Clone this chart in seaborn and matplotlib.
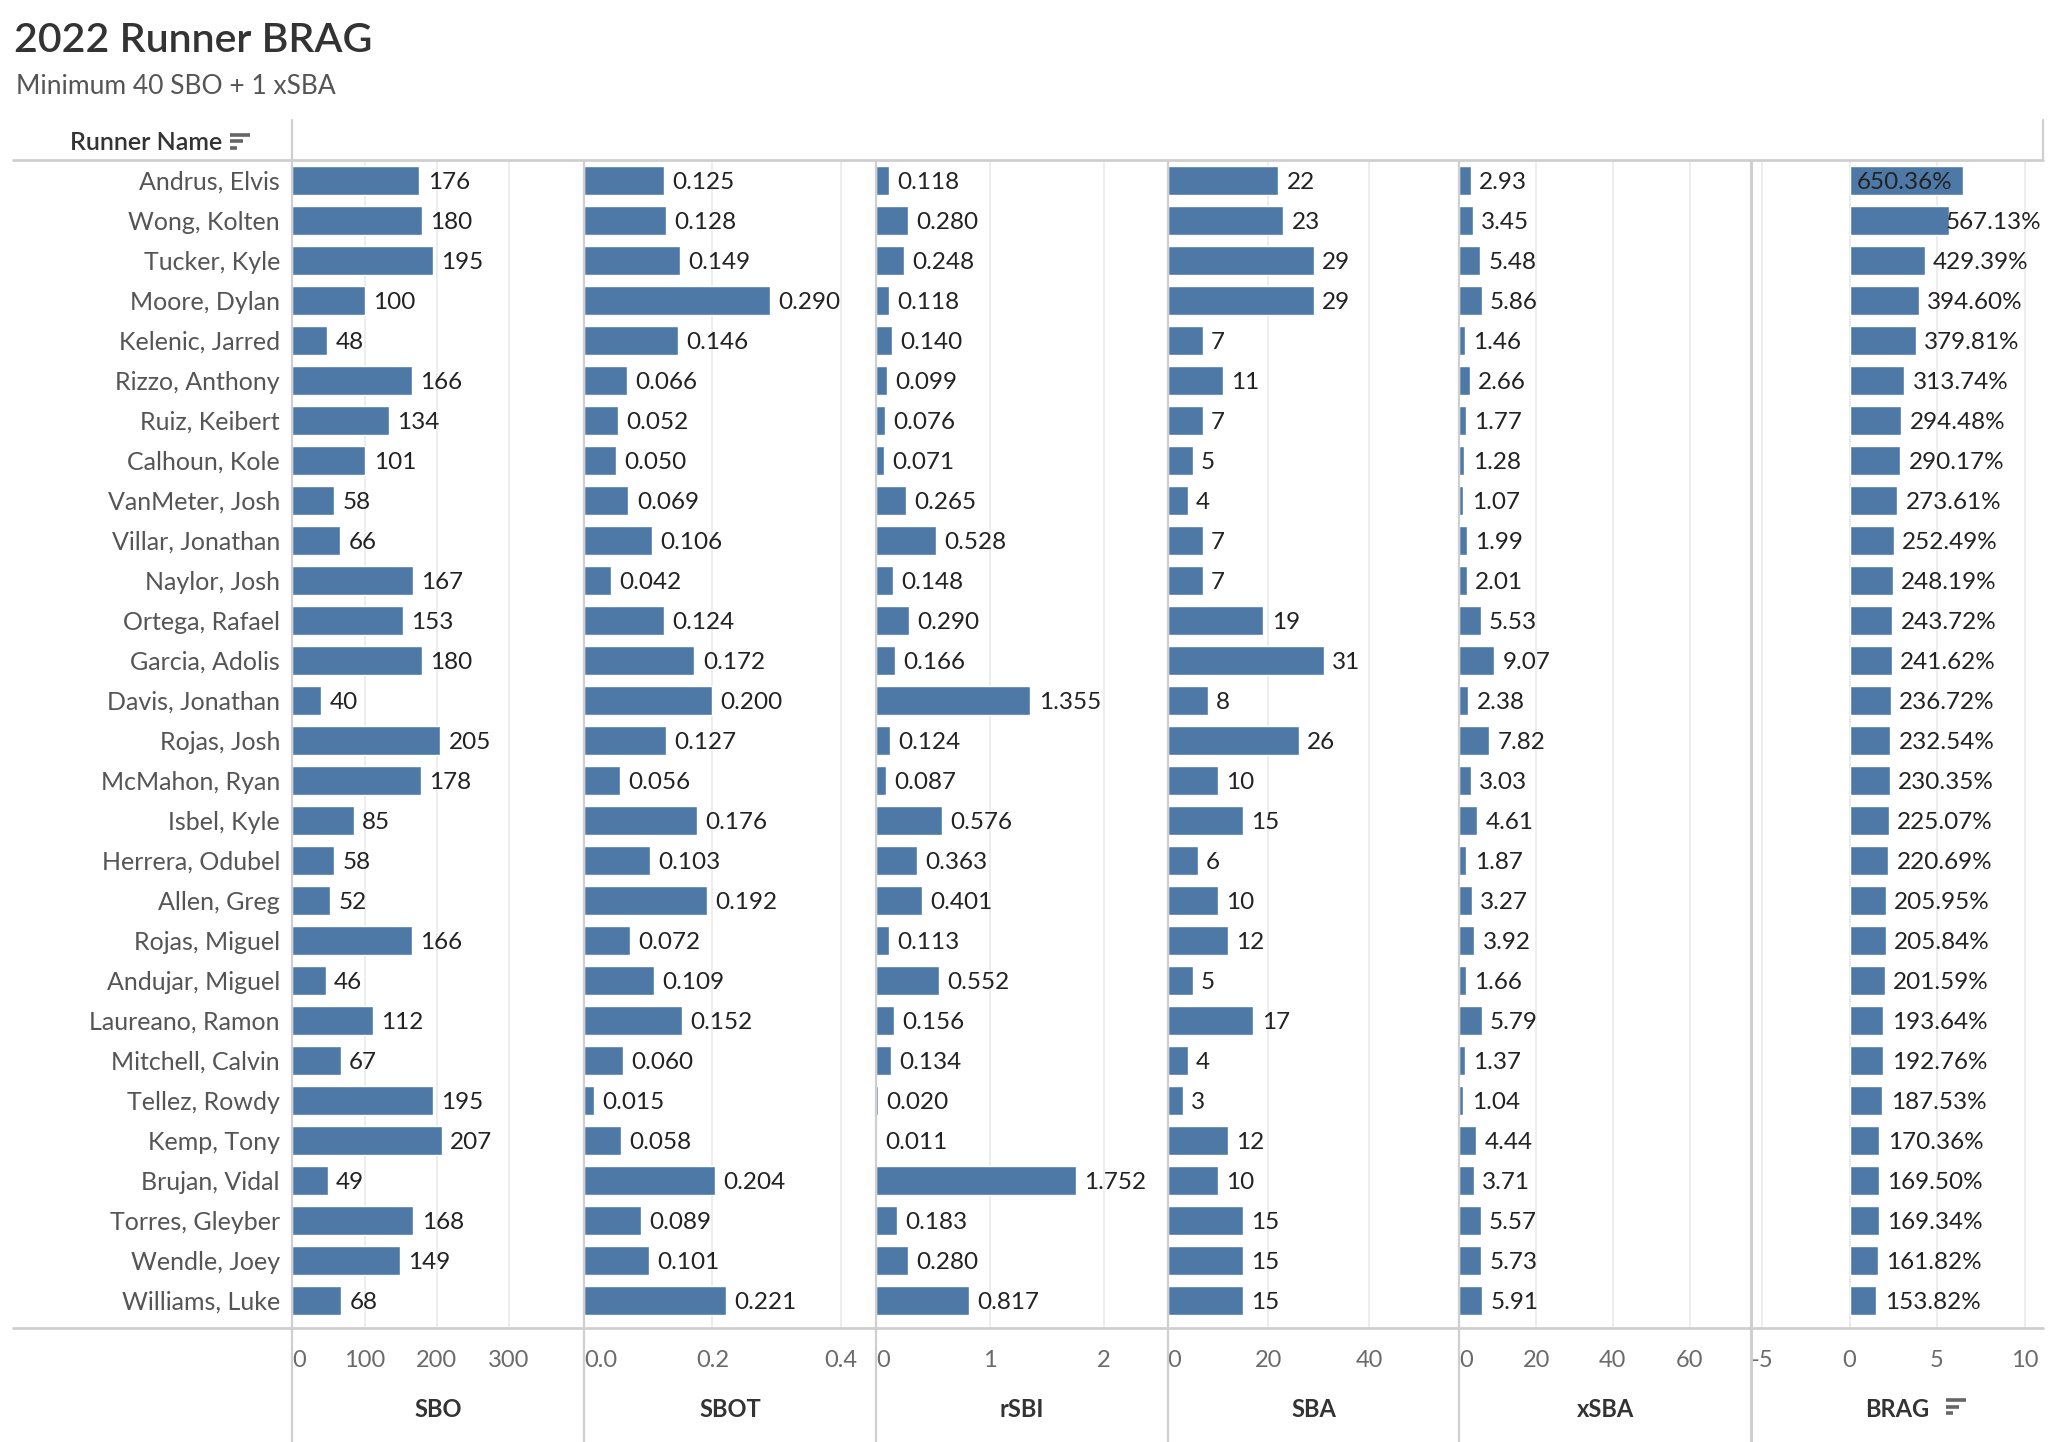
import numpy as np
import pandas as pd
import seaborn as sns
import matplotlib.pyplot as plt
from matplotlib.lines import Line2D

# Data
names = ["Andrus, Elvis", "Wong, Kolten", "Tucker, Kyle", "Moore, Dylan", "Kelenic, Jarred",
         "Rizzo, Anthony", "Ruiz, Keibert", "Calhoun, Kole", "VanMeter, Josh", "Villar, Jonathan",
         "Naylor, Josh", "Ortega, Rafael", "Garcia, Adolis", "Davis, Jonathan", "Rojas, Josh",
         "McMahon, Ryan", "Isbel, Kyle", "Herrera, Odubel", "Allen, Greg", "Rojas, Miguel",
         "Andujar, Miguel", "Laureano, Ramon", "Mitchell, Calvin", "Tellez, Rowdy", "Kemp, Tony",
         "Brujan, Vidal", "Torres, Gleyber", "Wendle, Joey", "Williams, Luke"]
sbo = [176, 180, 195, 100, 48, 166, 134, 101, 58, 66, 167, 153, 180, 40, 205,
       178, 85, 58, 52, 166, 46, 112, 67, 195, 207, 49, 168, 149, 68]
sbot = [0.125, 0.128, 0.149, 0.290, 0.146, 0.066, 0.052, 0.050, 0.069, 0.106, 0.042, 0.124,
        0.172, 0.200, 0.127, 0.056, 0.176, 0.103, 0.192, 0.072, 0.109, 0.152, 0.060, 0.015,
        0.058, 0.204, 0.089, 0.101, 0.221]
rsbi = [0.118, 0.280, 0.248, 0.118, 0.140, 0.099, 0.076, 0.071, 0.265, 0.528, 0.148, 0.290,
        0.166, 1.355, 0.124, 0.087, 0.576, 0.363, 0.401, 0.113, 0.552, 0.156, 0.134, 0.020,
        0.011, 1.752, 0.183, 0.280, 0.817]
sba = [22, 23, 29, 29, 7, 11, 7, 5, 4, 7, 7, 19, 31, 8, 26, 10, 15, 6, 10, 12, 5, 17, 4, 3,
       12, 10, 15, 15, 15]
xsba = [2.93, 3.45, 5.48, 5.86, 1.46, 2.66, 1.77, 1.28, 1.07, 1.99, 2.01, 5.53, 9.07, 2.38,
        7.82, 3.03, 4.61, 1.87, 3.27, 3.92, 1.66, 5.79, 1.37, 1.04, 4.44, 3.71, 5.57, 5.73, 5.91]
brag_pct = [650.36, 567.13, 429.39, 394.60, 379.81, 313.74, 294.48, 290.17, 273.61, 252.49,
            248.19, 243.72, 241.62, 236.72, 232.54, 230.35, 225.07, 220.69, 205.95, 205.84,
            201.59, 193.64, 192.76, 187.53, 170.36, 169.50, 169.34, 161.82, 153.82]

df = pd.DataFrame({"Runner Name": names, "SBO": sbo, "SBOT": sbot, "rSBI": rsbi,
                   "SBA": sba, "xSBA": xsba, "BRAG": np.array(brag_pct) / 100})

# column setup: measure, xlim, ticks, tick labels, value format
cols = [
    ("SBO", (0, 405), [0, 100, 200, 300], ["0", "100", "200", "300"], lambda v: f"{v:.0f}"),
    ("SBOT", (0, 0.455), [0, 0.2, 0.4], ["0.0", "0.2", "0.4"], lambda v: f"{v:.3f}"),
    ("rSBI", (0, 2.56), [0, 1, 2], ["0", "1", "2"], lambda v: f"{v:.3f}"),
    ("SBA", (0, 57.9), [0, 20, 40], ["0", "20", "40"], lambda v: f"{v:.0f}"),
    ("xSBA", (0, 76), [0, 20, 40, 60], ["0", "20", "40", "60"], lambda v: f"{v:.2f}"),
    ("BRAG", (-5.63, 11.04), [-5, 0, 5, 10], ["-5", "0", "5", "10"], lambda v: f"{v * 100:.2f}%"),
]

sns.set_theme(style="white")
plt.rcParams['font.family'] = ['Lato', 'DejaVu Sans']

BAR = "#4e79a7"
LINE = "#cfcfcf"
W, H = 1568.0, 1102.0  # layout units (scaled to output)

fig = plt.figure(figsize=(20.52, 14.42), dpi=100)

def fx(x):
    return x / W

def fy(y):
    return 1 - y / H

top, bot = 123, 1015
left0, pane = 223.5, 222.9
n = len(names)

for k, (col, xl, ticks, tlabels, fmt) in enumerate(cols):
    x0 = left0 + k * pane
    ax = fig.add_axes([fx(x0), fy(bot), pane / W, (bot - top) / H])
    sns.barplot(data=df, x=col, y="Runner Name", ax=ax, color=BAR, saturation=1,
                width=0.72, orient="h", errorbar=None)
    ax.set_xlim(*xl)
    ax.set_ylim(n - 0.31, -0.49)
    ax.set_xticks(ticks)
    ax.set_xticklabels(tlabels)
    for s in ax.spines.values():
        s.set_visible(False)
    ax.set_axisbelow(True)
    ax.xaxis.grid(True, color="#ececec", lw=1.3)
    ax.yaxis.grid(False)
    ax.tick_params(axis="x", length=0, pad=16, labelsize=17, labelcolor="#6a6a6a")
    ax.tick_params(axis="y", length=0)
    ax.set_ylabel("")
    ax.set_xlabel(col, fontsize=17, fontweight="bold", color="#333333")
    ax.xaxis.set_label_coords(0.5, -0.060)
    if k == 0:
        ax.tick_params(axis="y", labelsize=18, labelcolor="#555555", pad=9)
        for t in ax.get_yticklabels():
            t.set_va("center_baseline")
    else:
        ax.set_yticklabels([])
    # left align tick label at pane edge
    tl = ax.get_xticklabels()
    if xl[0] == 0:
        tl[0].set_ha("left")
    if col == "BRAG":
        ax.axvline(0, color="#c8c8c8", lw=1.3, ls=(0, (3, 2)), zorder=0.5)

    vals = df[col].to_numpy()
    for i, v in enumerate(vals):
        txt = fmt(v)
        if col == "BRAG" and v + 6.1 > xl[1]:
            if v > 6.1:
                ax.annotate(txt, xy=(0, i), xytext=(5, 0), textcoords="offset points",
                            va="center_baseline", ha="left", fontsize=17.5, color="#222222")
            else:
                ax.annotate(txt, xy=(xl[1], i), xytext=(-1, 0), textcoords="offset points",
                            va="center_baseline", ha="right", fontsize=17.5, color="#222222")
        else:
            ax.annotate(txt, xy=(v, i), xytext=(6, 0), textcoords="offset points",
                        va="center_baseline", ha="left", fontsize=17.5, color="#222222")

# frame lines
def hline(y, x1, x2, lw=2.0, c=LINE):
    fig.add_artist(Line2D([fx(x1), fx(x2)], [fy(y), fy(y)], color=c, lw=lw))

def vline(x, y1, y2, lw=1.6, c=LINE):
    fig.add_artist(Line2D([fx(x), fx(x)], [fy(y1), fy(y2)], color=c, lw=lw))

hline(122, 10, 1561)
hline(1015, 10, 1561)
vline(left0, 92, H)
for k in range(1, 6):
    vline(left0 + k * pane, 123, H, lw=2.2 if k == 5 else 1.6)
vline(1561, 92, 122)

# titles
fig.text(fx(11), fy(31), "2022 Runner BRAG", fontsize=29.5, fontweight="semibold",
         color="#333333", va="center", ha="left")
fig.text(fx(12), fy(66), "Minimum 40 SBO + 1 xSBA", fontsize=19, color="#555555",
         va="center", ha="left")
fig.text(fx(170), fy(109), "Runner Name", fontsize=18, fontweight="semibold",
         color="#333333", va="center", ha="right")

# sort icons
def sort_icon(x, y):
    for j, ln in enumerate([15, 10, 5]):
        fig.add_artist(Line2D([fx(x), fx(x + ln)], [fy(y + j * 5), fy(y + j * 5)],
                              color="#666666", lw=2.6, solid_capstyle="butt"))

sort_icon(176, 103)
sort_icon(1487, 1070)

fig.savefig("out.png", dpi=100)
